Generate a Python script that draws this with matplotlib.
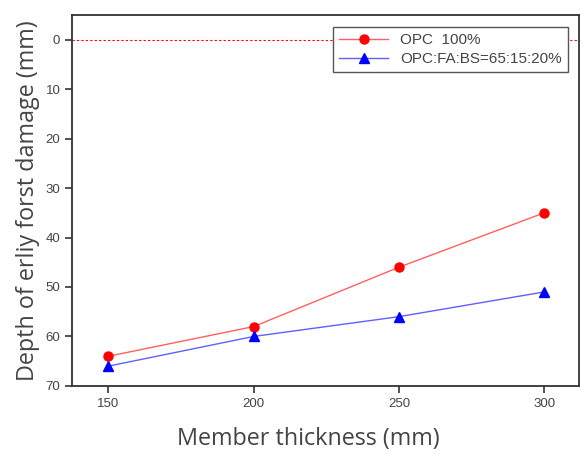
import matplotlib
matplotlib.use("Agg")
import matplotlib.pyplot as plt

thickness = [150, 200, 250, 300]
opc = [64, 58, 46, 35]
blend = [66, 60, 56, 51]
labels = ["OPC  100%", "OPC:FA:BS=65:15:20%"]

plt.rcParams['font.family'] = ['Liberation Sans', 'DejaVu Sans']

fig = plt.figure(figsize=(5.82, 4.54), dpi=100)
ax = fig.add_axes([0.124, 0.150, 0.871, 0.817])

ax.axhline(0, color='red', lw=0.8, ls=(0, (2, 2)), zorder=1)
ax.plot(thickness, opc, color='#ff6060', lw=1, marker='o', ms=6.5,
        mfc='red', mec='red', label=labels[0])
ax.plot(thickness, blend, color='#6060ff', lw=1, marker='^', ms=6.5,
        mfc='blue', mec='blue', label=labels[1])

ax.set_xlim(137.5, 312)
ax.set_ylim(70, -5)
ax.set_xticks(thickness)
ax.set_yticks(range(0, 71, 10))
ax.tick_params(direction='out', length=5, width=1.2, labelsize=9.5, colors='#333333', labelcolor='#444444')
for s in ax.spines.values():
    s.set_linewidth(1.3)
    s.set_color('#333333')

ax.set_xlabel("Member thickness (mm)", fontsize=16.8, color='#444444', family='Open Sans')
ax.xaxis.set_label_coords(0.465, -0.11)
ax.set_ylabel("Depth of erliy forst damage (mm)", fontsize=16.8, color='#444444', family='Open Sans')

leg = ax.legend(loc='upper right', fontsize=11, fancybox=False, edgecolor='#555555',
                framealpha=1, handlelength=3.2, bbox_to_anchor=(0.978, 0.968),
                borderaxespad=0, borderpad=0.4, labelspacing=0.35, handletextpad=0.8)
leg.get_frame().set_linewidth(1)
for t in leg.get_texts():
    t.set_color('#444444')

fig.savefig("out.png", dpi=100)
